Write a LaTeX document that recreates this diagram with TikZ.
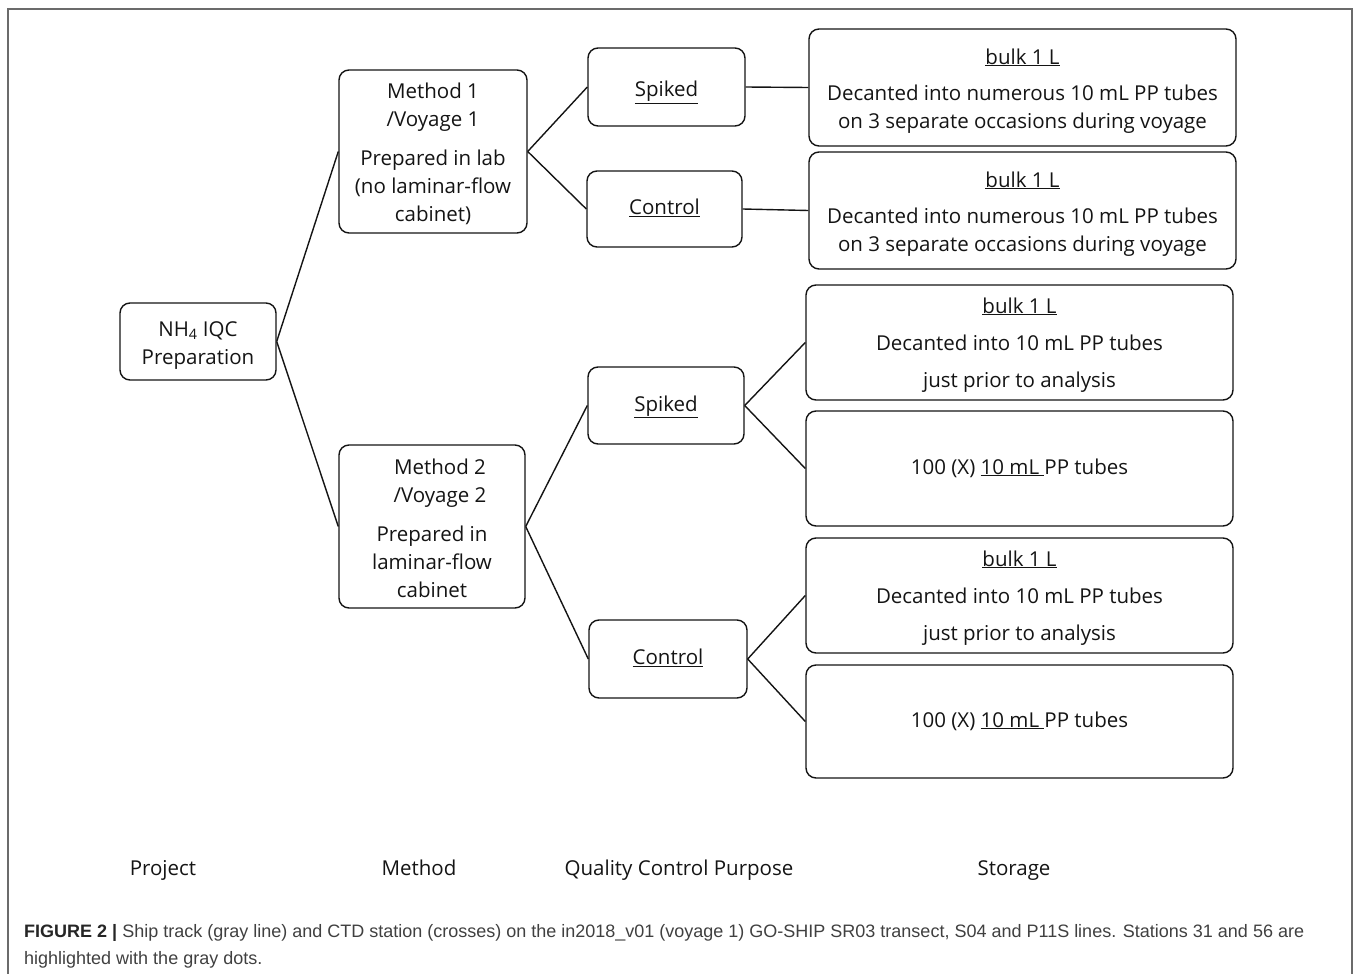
\documentclass[tikz,border=0pt]{standalone}
\usepackage{fontspec}
\setmainfont{Open Sans}
\newfontfamily\capfont{Liberation Sans}
\definecolor{framegray}{rgb}{0.42,0.42,0.42}
\definecolor{captext}{rgb}{0.25,0.25,0.25}
\definecolor{ink}{rgb}{0.08,0.08,0.08}
\begin{document}
\begin{tikzpicture}[x=1pt,y=-1pt,
  box/.style={draw=ink, line width=1.4pt, rounded corners=10pt, align=center, inner sep=0pt, text=ink,
    font=\fontsize{20.5}{28}\selectfont},
  onebox/.style={box, text height=15pt, text depth=4pt},
  lbl/.style={text=ink, font=\fontsize{20.5}{28}\selectfont, inner sep=0pt, anchor=base},
  link/.style={draw=ink, line width=1.4pt}]
\useasboundingbox (0,0) rectangle (1358,974);
\draw[framegray, line width=2pt] (8,974) -- (8,9) -- (1352,9) -- (1352,974);

\node[box, minimum width=156pt, minimum height=77pt] (nh4) at (198,341.5) {\rule{0pt}{22pt}NH\textsubscript{4} IQC\\Preparation};
\node[box, minimum width=188pt, minimum height=163pt] (m1) at (433,151.5)
  {\rule{0pt}{20pt}Method 1\\/Voyage 1\\[11pt]Prepared in lab\\(no laminar-flow\\cabinet)};
\node[box, minimum width=186pt, minimum height=163pt] (m2) at (432,526.5)
  {\rule{0pt}{20pt}\hspace*{16pt}Method 2\\\hspace*{16pt}/Voyage 2\\[11pt]Prepared in\\laminar-flow\\cabinet};

\node[onebox, text height=23pt, minimum width=157pt, minimum height=78pt] (s1) at (666.5,87) {\underline{Spiked}};
\node[onebox, minimum width=155pt, minimum height=76pt] (c1) at (664.5,209) {\underline{Control}};
\node[onebox, minimum width=156pt, minimum height=77pt] (s2) at (666,405.5) {\underline{Spiked}};
\node[onebox, minimum width=158pt, minimum height=78pt] (c2) at (668,659) {\underline{Control}};

\node[box, minimum width=427pt, minimum height=117pt] (st1) at (1022.5,87.5)
  {\rule{0pt}{22pt}\underline{bulk 1 L}\\[8pt]Decanted into numerous 10 mL PP tubes\\on 3 separate occasions during voyage};
\node[box, minimum width=427pt, minimum height=117pt] (st2) at (1022.5,210.5)
  {\rule{0pt}{22pt}\underline{bulk 1 L}\\[8pt]Decanted into numerous 10 mL PP tubes\\on 3 separate occasions during voyage};
\node[box, minimum width=427pt, minimum height=115pt] (st3) at (1019.5,342.5)
  {\rule{0pt}{20pt}\underline{bulk 1 L}\\[9pt]Decanted into 10 mL PP tubes\\[9pt]just prior to analysis};
\node[onebox, minimum width=427pt, minimum height=115pt] (st4) at (1019.5,468.5)
  {100 (X) \underline{10 mL\ }PP tubes};
\node[box, minimum width=427pt, minimum height=115pt] (st5) at (1019.5,595.5)
  {\rule{0pt}{20pt}\underline{bulk 1 L}\\[9pt]Decanted into 10 mL PP tubes\\[9pt]just prior to analysis};
\node[onebox, minimum width=427pt, minimum height=113pt] (st6) at (1019.5,721.5)
  {100 (X) \underline{10 mL\ }PP tubes};

\draw[link] (nh4.east) -- (m1.west);
\draw[link] (nh4.east) -- (m2.west);
\draw[link] (m1.east) -- (s1.west);
\draw[link] (m1.east) -- (c1.west);
\draw[link] (m2.east) -- (s2.west);
\draw[link] (m2.east) -- (c2.west);
\draw[link] (s1.east) -- (st1.west);
\draw[link] (c1.east) -- (st2.west);
\draw[link] (s2.east) -- (st3.west);
\draw[link] (s2.east) -- (st4.west);
\draw[link] (c2.east) -- (st5.west);
\draw[link] (c2.east) -- (st6.west);

\node[lbl] (lproj) at (163,875) {Project};
\node[lbl] (lmeth) at (419,875) {Method};
\node[lbl] (lqc) at (679,875) {Quality Control Purpose};
\node[lbl] (lsto) at (1014,875) {Storage};

\node[anchor=base west, inner sep=0pt, text=captext, align=left,
  font=\capfont\fontsize{18}{27}\selectfont] (cap) at (24,964)
  {{\bfseries\color{black!85}FIGURE 2 |} Ship track (gray line) and CTD station (crosses) on the in2018\_v01 (voyage 1) GO-SHIP SR03 transect, S04 and P11S lines. Stations 31 and 56 are\\highlighted with the gray dots.};
\end{tikzpicture}
\end{document}
